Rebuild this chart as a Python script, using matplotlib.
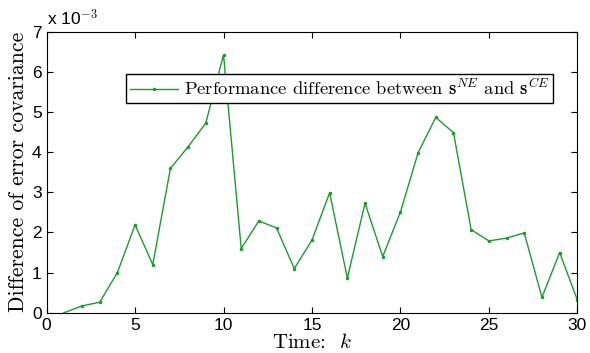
import numpy as np
import matplotlib
matplotlib.use('Agg')
import matplotlib.pyplot as plt

# time steps and performance difference (units of 1e-3)
k = list(range(1, 31))
diff_e3 = [0.0, 0.17, 0.26, 1.0, 2.19, 1.2, 3.6, 4.14, 4.73, 6.43,
           1.6, 2.29, 2.11, 1.1, 1.81, 2.99, 0.86, 2.73, 1.4, 2.51,
           3.99, 4.87, 4.49, 2.07, 1.79, 1.86, 1.99, 0.38, 1.5, 0.32]
xticks = [0, 5, 10, 15, 20, 25, 30]
yticks = [0, 1, 2, 3, 4, 5, 6, 7]

plt.rcParams['mathtext.fontset'] = 'cm'
serif = 'cmr10'

fig = plt.figure(figsize=(5.9, 3.53), dpi=100)
ax = fig.add_axes([0.079, 0.1142, 0.8995, 0.7951])
ax.plot(k, np.array(diff_e3), color='#1f9a30', linewidth=1.0,
        marker='.', markersize=3,
        label=r'Performance difference between $\mathbf{s}^{NE}$ and $\mathbf{s}^{CE}$')

ax.set_xlim(0, 30)
ax.set_ylim(0, 7)
ax.set_xticks(xticks)
ax.set_yticks(yticks)
ax.tick_params(direction='in', top=True, right=True, length=4, labelsize=12.5)
for lab in ax.get_xticklabels() + ax.get_yticklabels():
    lab.set_family('Liberation Sans')
for s in ax.spines.values():
    s.set_linewidth(0.8)

ax.set_xlabel(r'Time:  $k$', fontsize=15, family=serif, labelpad=0)
ax.set_ylabel('Difference of error covariance', fontsize=15.7, family=serif, labelpad=3)
ax.text(0.0, 1.012, r'x 10$^{-3}$', transform=ax.transAxes, fontsize=12.5,
        family='Liberation Sans', ha='left', va='bottom')

leg = ax.legend(loc='upper left', bbox_to_anchor=(0.149, 0.85), fancybox=False,
                framealpha=1, edgecolor='black', prop={'family': serif, 'size': 13.4},
                handlelength=2.6, borderpad=0.22, handletextpad=0.3, borderaxespad=0)
leg.get_frame().set_linewidth(1.0)

fig.savefig('out.png', dpi=100)
